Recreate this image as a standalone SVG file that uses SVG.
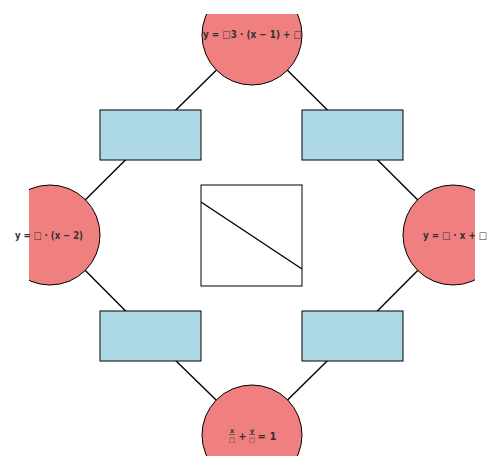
<svg xmlns="http://www.w3.org/2000/svg" width="500" height="471" viewBox="0 0 500 471">
<defs>
<clipPath id="clip"><rect x="29" y="14" width="446" height="442"/></clipPath>
<style>
.c{fill:#F08080;stroke:#000;stroke-width:1}
.r{fill:#ADD8E6;stroke:#000;stroke-width:1}
.e{stroke:#000;stroke-width:1.4;fill:none}
.t{font-family:"DejaVu Sans",sans-serif;font-weight:bold;font-size:10px;fill:#333;text-anchor:middle}
.s{font-family:"DejaVu Sans",sans-serif;font-weight:bold;font-size:6.5px;fill:#333;text-anchor:middle}
</style>
</defs>
<rect width="500" height="471" fill="#fff"/>
<g id="connectors">
<line class="e" x1="252" y1="35" x2="150.5" y2="135"/>
<line class="e" x1="252" y1="35" x2="352.5" y2="135"/>
<line class="e" x1="50" y1="235" x2="150.5" y2="135"/>
<line class="e" x1="453" y1="235" x2="352.5" y2="135"/>
<line class="e" x1="50" y1="235" x2="150.5" y2="336"/>
<line class="e" x1="453" y1="235" x2="352.5" y2="336"/>
<line class="e" x1="252" y1="435" x2="150.5" y2="336"/>
<line class="e" x1="252" y1="435" x2="352.5" y2="336"/>
</g>
<g clip-path="url(#clip)">
<circle id="top-shape" class="c" cx="252" cy="35" r="50"/>
<circle id="left-shape" class="c" cx="50" cy="235" r="50"/>
<circle id="right-shape" class="c" cx="453" cy="235" r="50"/>
<circle id="bottom-shape" class="c" cx="252" cy="435" r="50"/>
</g>
<g id="rect-tl"><rect class="r" x="100" y="110" width="101" height="50"/></g>
<g id="rect-tr"><rect class="r" x="302" y="110" width="101" height="50"/></g>
<g id="rect-bl"><rect class="r" x="100" y="311" width="101" height="50"/></g>
<g id="rect-br"><rect class="r" x="302" y="311" width="101" height="50"/></g>
<g id="center">
<rect x="201" y="185" width="101" height="101" fill="#fff" stroke="#000" stroke-width="1"/>
<line class="e" x1="201" y1="202" x2="302" y2="269"/>
</g>
<g id="top"><text class="t" x="252.5" y="37.5" textLength="99" lengthAdjust="spacingAndGlyphs">y = □3 · (x − 1) + □</text></g>
<g id="left"><text class="t" x="49" y="238.5" textLength="68" lengthAdjust="spacingAndGlyphs">y = □ · (x − 2)</text></g>
<g id="right"><text class="t" x="455" y="238.5" textLength="64" lengthAdjust="spacingAndGlyphs">y = □ · x + □</text></g>
<g id="bottom">
<text class="s" x="232" y="433">x</text>
<line x1="229" y1="434.5" x2="235" y2="434.5" stroke="#333" stroke-width="0.6"/>
<text class="s" x="232" y="442">□</text>
<text class="t" x="242.5" y="439.5">+</text>
<text class="s" x="252" y="433">y</text>
<line x1="249" y1="434.5" x2="255" y2="434.5" stroke="#333" stroke-width="0.6"/>
<text class="s" x="252" y="442">□</text>
<text class="t" x="267" y="439.5">= 1</text>
</g>
</svg>
